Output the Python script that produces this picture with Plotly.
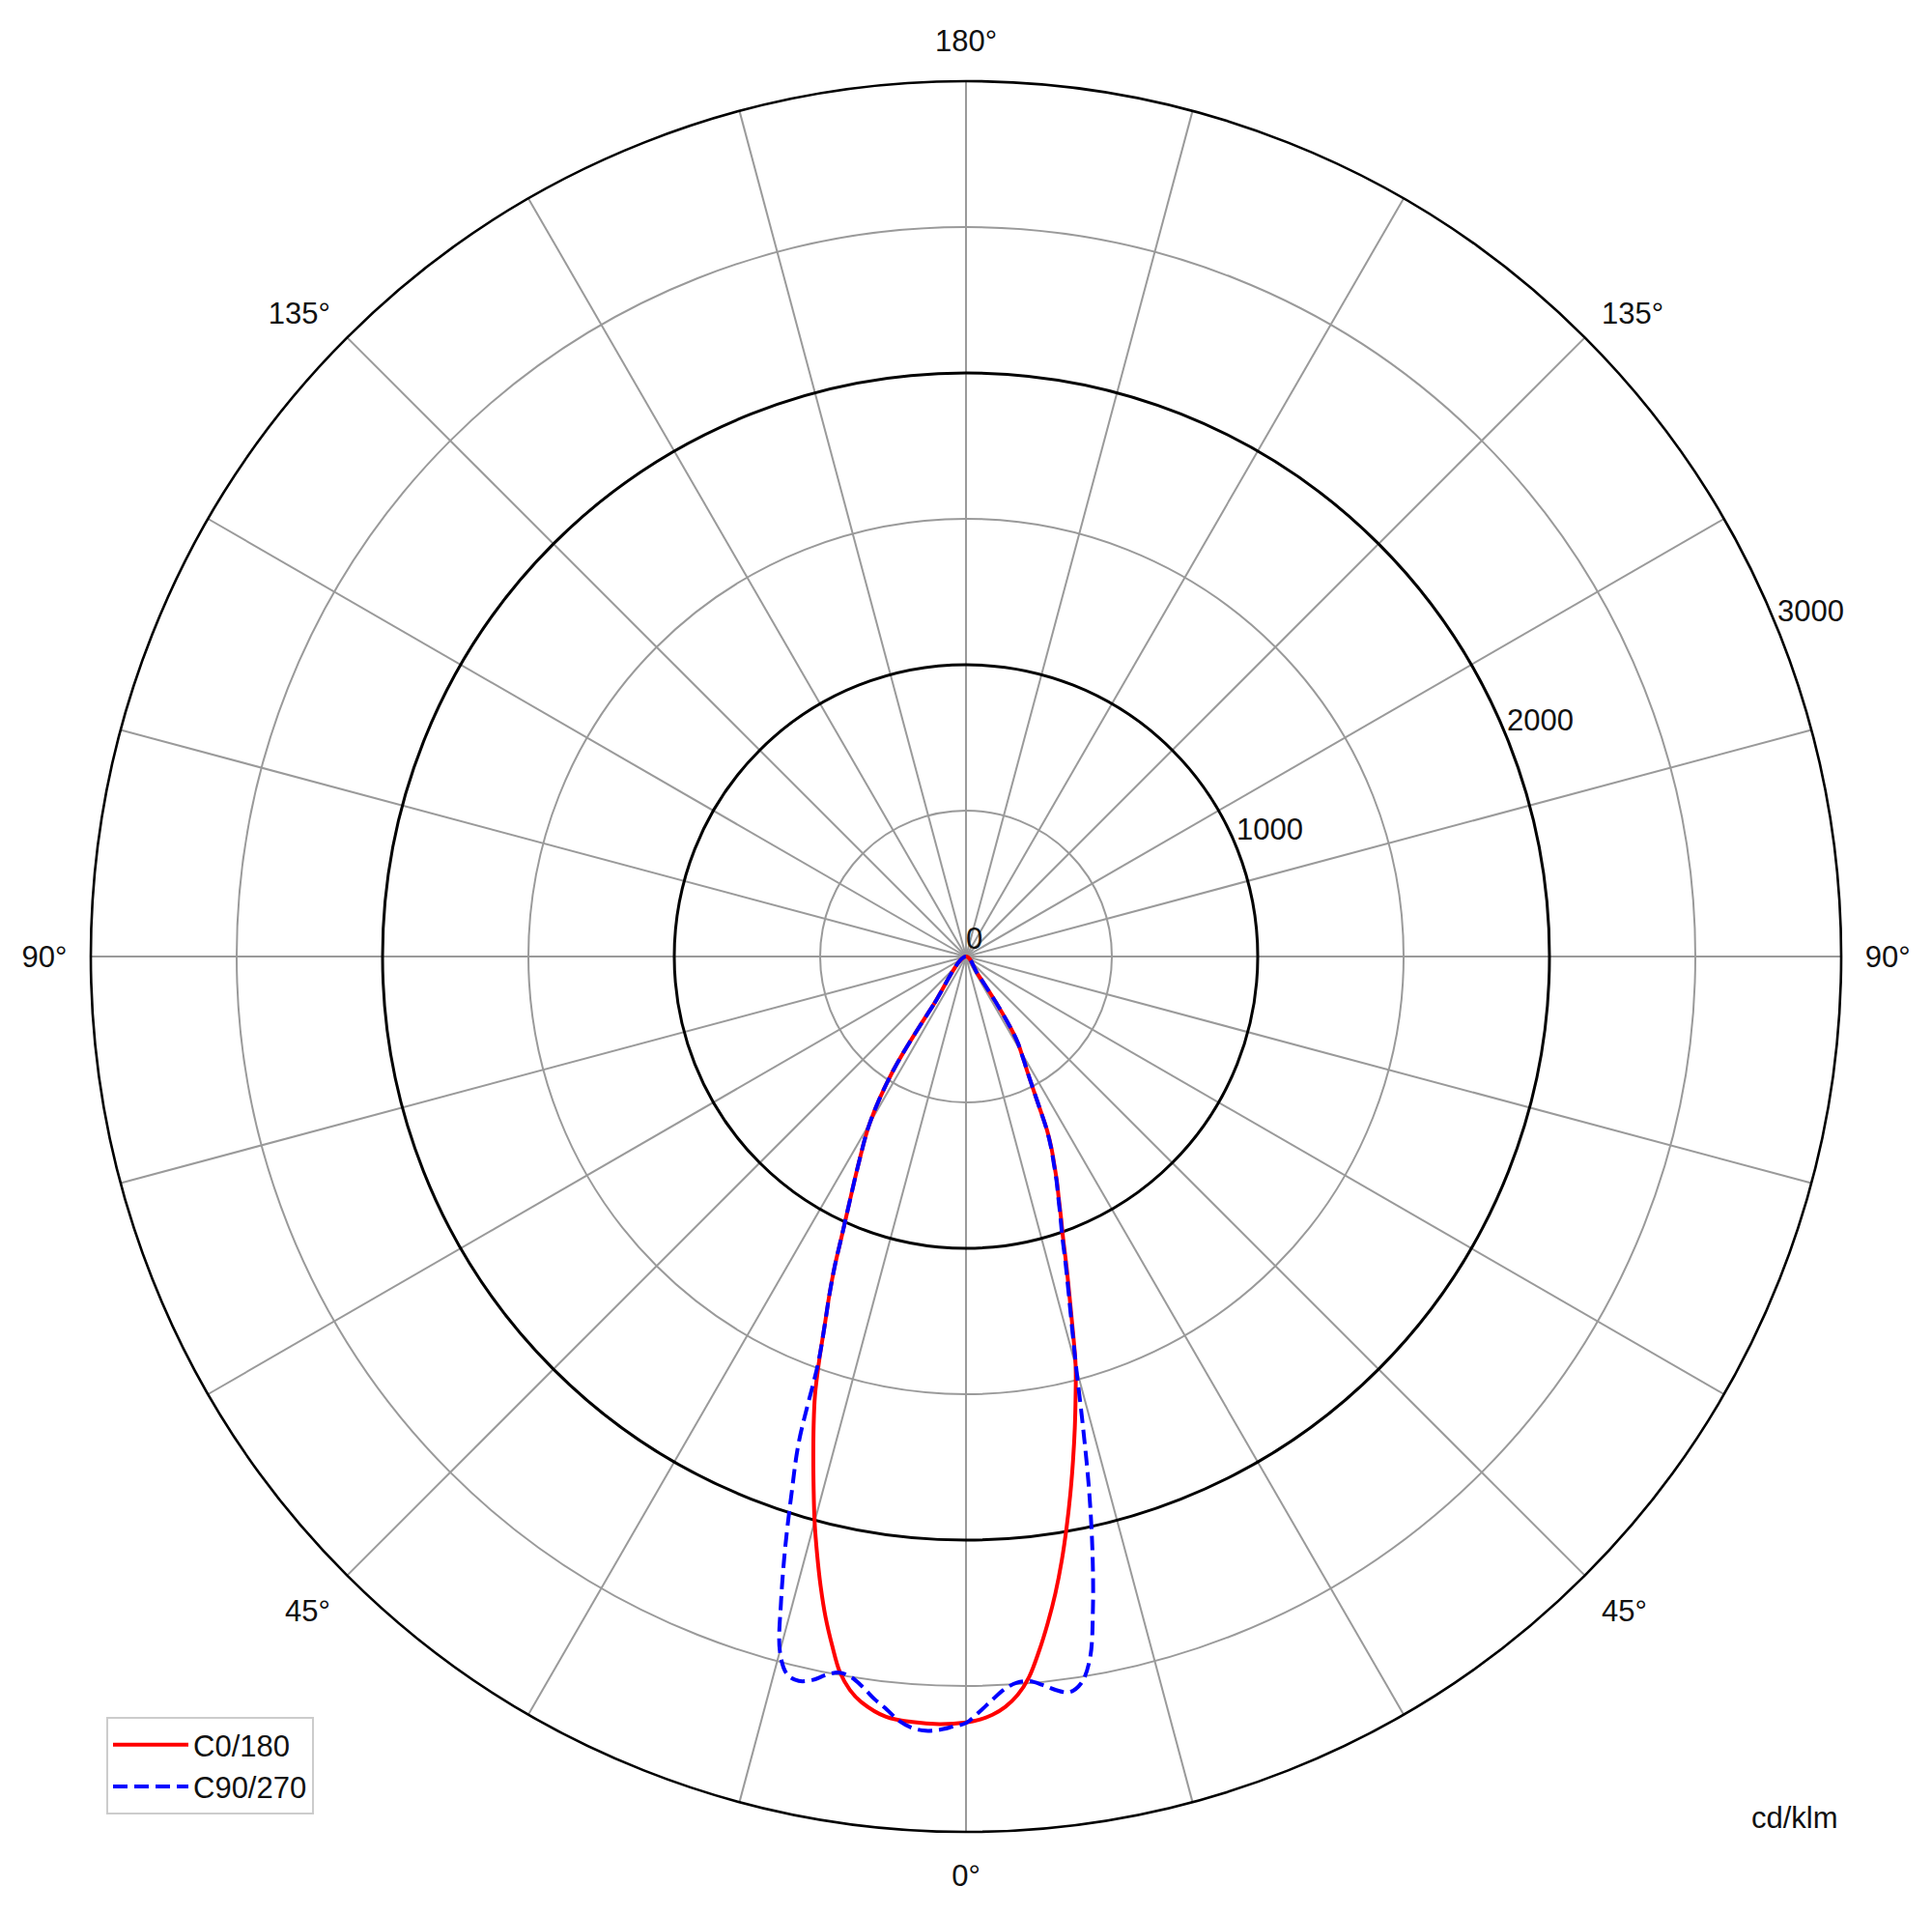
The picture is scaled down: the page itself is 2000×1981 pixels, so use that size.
import plotly.graph_objects as go

# luminous intensity (cd/klm) against gamma angle (deg), one list per half plane
c0_gamma = [0, 1, 2, 3, 4, 5, 6, 7, 8, 9, 10, 11, 12, 13, 14, 15, 16, 17, 18, 19, 20,
            21, 22, 23, 24, 25, 26, 27, 28, 29, 30, 31, 32, 33, 34, 34.5]
c0_cd = [2625, 2616, 2600, 2575, 2537, 2479, 2394, 2301, 2203, 2097, 1986, 1875, 1765, 1658, 1553, 1452,
         1326, 1212, 1114, 1023, 952, 887, 832, 774, 721, 658, 571, 502, 450, 412, 377, 345, 290, 205,
         70, 0]

c180_gamma = [0, 2, 4, 6, 8, 9, 10, 11, 12, 13, 14, 15, 16, 17, 18, 19, 20,
              21, 22, 23, 24, 25, 27.5, 30, 32.5, 34, 35.5]
c180_cd = [2625, 2632, 2630, 2620, 2580, 2545, 2490, 2405, 2315, 2215, 2110, 2005, 1895, 1790, 1690, 1590,
           1470, 1350, 1250, 1150, 1045, 960, 795, 660, 470, 200, 0]

c90_gamma = [0, 1, 2, 3, 4, 5, 6, 7, 8, 9, 10, 11, 12, 13, 14, 15, 16, 17, 18, 19, 20,
             21, 22, 23, 24, 25, 26, 27, 28, 29, 30, 31, 32, 33, 34, 34.5]
c90_cd = [2627, 2590, 2550, 2515, 2495, 2493, 2510, 2533, 2546, 2522, 2445, 2280, 2085, 1875, 1655, 1460,
          1316, 1202, 1104, 1013, 945, 882, 828, 770, 717, 655, 571, 502, 450, 412, 377, 345, 290, 205,
          70, 0]

c270_gamma = [0, 1, 2, 3, 4, 5, 6, 7, 8, 9, 10, 11, 12, 13, 14, 15, 16, 17, 18, 19, 20,
              21, 22, 23, 24, 25, 27.5, 30, 32.5, 34, 35.5]
c270_cd = [2627, 2640, 2652, 2657, 2650, 2630, 2595, 2565, 2530, 2502, 2492, 2508, 2535, 2548, 2535, 2465,
           2300, 2120, 1935, 1760, 1480, 1350, 1250, 1150, 1045, 960, 795, 660, 470, 200, 0]

r_ticks = [0, 1000, 2000, 3000]
r_minor = [500, 1500, 2500]
angle_ticks = list(range(0, 360, 15))
angle_labels = ["0°", "", "", "45°", "", "", "90°", "", "", "135°", "", "",
                "180°", "", "", "135°", "", "", "90°", "", "", "45°", "", ""]

FONT = "Liberation Sans, Arial, sans-serif"
# the page body adds an 8 px margin, so the figure is a little smaller than the window
PAD = 8
W, H = 2000 - 2 * PAD, 1981 - 2 * PAD
cx, cy, R = 1000 - PAD, 990 - PAD, 906  # centre and outer radius in figure px


def plane_pair(left_g, left_v, right_g, right_v):
    # left half runs from the top down to gamma 0, right half back up
    theta = [360 - g for g in reversed(left_g)] + right_g[1:]
    r = list(reversed(left_v)) + right_v[1:]
    return theta, r


red_t, red_r = plane_pair(c180_gamma, c180_cd, c0_gamma, c0_cd)
blue_t, blue_r = plane_pair(c270_gamma, c270_cd, c90_gamma, c90_cd)

fig = go.Figure()
# empty trace so the grid subplot underneath gets drawn
fig.add_trace(go.Scatterpolar(r=[None], theta=[None], mode="lines", showlegend=False,
                              hoverinfo="skip", subplot="polar"))
fig.add_trace(go.Scatterpolar(r=red_r, theta=red_t, mode="lines", name="C0/180",
                              line=dict(color="#ff0000", width=4, shape="spline", smoothing=1),
                              subplot="polar2"))
fig.add_trace(go.Scatterpolar(r=blue_r, theta=blue_t, mode="lines", name="C90/270",
                              line=dict(color="#0000ff", width=4, dash="15px,7px",
                                        shape="spline", smoothing=1),
                              subplot="polar2"))
fig.add_trace(go.Scatterpolar(r=r_ticks, theta=[112] * len(r_ticks), mode="text",
                              text=[str(v) for v in r_ticks], textposition="top right",
                              textfont=dict(family=FONT, size=31, color="#111111"),
                              cliponaxis=False, showlegend=False, hoverinfo="skip",
                              subplot="polar2"))

dom = dict(x=[(cx - R) / W, (cx + R) / W], y=[(H - cy - R) / H, (H - cy + R) / H])

fig.update_layout(
    width=W, height=H,
    margin=dict(l=0, r=0, t=0, b=0),
    paper_bgcolor="white",
    font=dict(family=FONT, size=31, color="#111111"),
    polar=dict(
        domain=dom, bgcolor="white",
        angularaxis=dict(rotation=270, direction="counterclockwise",
                         tickmode="array", tickvals=angle_ticks, ticktext=angle_labels,
                         showgrid=True, gridcolor="#9a9a9a", gridwidth=1.6,
                         showline=False, ticks="outside", ticklen=18,
                         tickcolor="rgba(0,0,0,0)",
                         tickfont=dict(family=FONT, size=31, color="#111111")),
        radialaxis=dict(range=[0, 3000], tickmode="array", tickvals=r_minor,
                        showticklabels=False, showgrid=True, gridcolor="#9a9a9a",
                        gridwidth=1.6, showline=False, ticks=""),
    ),
    polar2=dict(
        domain=dom, bgcolor="rgba(0,0,0,0)",
        angularaxis=dict(rotation=270, direction="counterclockwise",
                         showgrid=False, showticklabels=False, ticks="",
                         showline=True, linecolor="black", linewidth=2.6),
        radialaxis=dict(range=[0, 3000], tickmode="array", tickvals=r_ticks[1:],
                        showticklabels=False, showgrid=True, gridcolor="black",
                        gridwidth=2.6, showline=False, ticks=""),
    ),
    legend=dict(x=102 / W, y=95 / H, xanchor="left", yanchor="bottom",
                bgcolor="white", bordercolor="#cccccc", borderwidth=2,
                font=dict(family=FONT, size=31, color="#111111"),
                itemwidth=78, tracegroupgap=4),
    annotations=[dict(text="cd/klm", x=1897 / W, y=92 / H, xref="paper", yref="paper",
                      xanchor="right", yanchor="middle", showarrow=False,
                      font=dict(family=FONT, size=31, color="#111111"))],
)

fig.write_html("out.html")
